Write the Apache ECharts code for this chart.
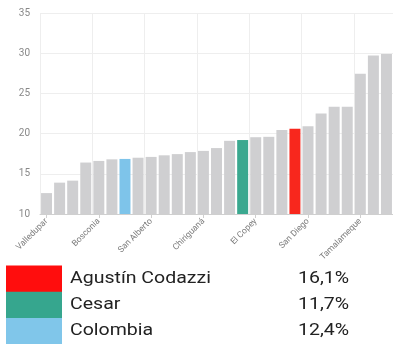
<!DOCTYPE html>
<html>
<head>
<meta charset="utf-8">
<script src="https://cdn.jsdelivr.net/npm/echarts@6/dist/echarts.min.js"></script>
<style>
html,body{margin:0;padding:0;background:#fff;}
#chart{width:393px;height:344px;}
</style>
</head>
<body>
<div id="chart"></div>
<script>
var categories = ['Valledupar','Aguachica','Pelaya','Gamarra','Bosconia','Curumaní','Colombia','Chimichagua','San Alberto','El Paso','La Gloria','Astrea','Chiriguaná','Pailitas','Becerril','Cesar','El Copey','González','Río de Oro','Agustín Codazzi','San Diego','La Paz','San Martín','Manaure','Tamalameque','La Jagua de Ibirico','Pueblo Bello'];
var values = [12.6,13.9,14.15,16.4,16.6,16.8,16.85,17.0,17.1,17.3,17.45,17.7,17.85,18.2,19.1,19.2,19.55,19.6,20.45,20.6,20.9,22.5,23.35,23.35,27.45,29.7,29.9];
var yTicks = [10,15,20,25,30,35];
var legendNames = ['Agustín Codazzi','Cesar','Colombia'];
var legendValues = ['16,1%','11,7%','12,4%'];

var barColors = {'Agustín Codazzi':'#f8271d','Cesar':'#3aa88f','Colombia':'#7ec4ea'};
var legendColors = ['#ff0d0d','#36a68e','#80c6ea'];

var chart = echarts.init(document.getElementById('chart'), null, {renderer:'canvas'});
var seriesData = categories.map(function(c,i){
  var o = {value: values[i]};
  if (barColors[c]) o.itemStyle = {color: barColors[c]};
  return o;
});

var graphics = [];
legendNames.forEach(function(n,i){
  var y0 = 265.5 + i*26.2;
  graphics.push({type:'rect', left:6, top:y0, shape:{width:56,height:26.4}, style:{fill:legendColors[i]}});
  graphics.push({type:'text', x:70, y:y0+13.5, scaleX:1.22, style:{text:n, font:'16px Roboto', fill:'#222', verticalAlign:'middle'}});
  graphics.push({type:'text', x:298, y:y0+13.5, scaleX:1.22, style:{text:legendValues[i], font:'16px Roboto', fill:'#222', verticalAlign:'middle'}});
});

chart.setOption({
  animation:false,
  grid:{left:40, width:356, top:13, bottom:130, containLabel:false},
  xAxis:{
    type:'category', data:categories,
    axisLine:{show:true, lineStyle:{color:'#cfcfcf'}},
    axisTick:{show:true, alignWithLabel:true, interval:3, length:4, lineStyle:{color:'#cfcfcf'}},
    axisLabel:{interval:3, rotate:45, fontSize:8.6, color:'#7a7a7a', margin:6, fontFamily:'Roboto'},
    splitLine:{show:true, interval:3, lineStyle:{color:'#eeeeee'}}
  },
  yAxis:{
    type:'value', min:yTicks[0], max:yTicks[yTicks.length-1], interval:5,
    axisLine:{show:false}, axisTick:{show:false},
    axisLabel:{fontSize:10, color:'#888', margin:10, fontFamily:'Roboto'},
    splitLine:{show:true, lineStyle:{color:'#eeeeee'}}
  },
  series:[{type:'bar', data:seriesData, barCategoryGap:'16%', itemStyle:{color:'#cfcfd1'}}],
  graphic:graphics
});
</script>
</body>
</html>
